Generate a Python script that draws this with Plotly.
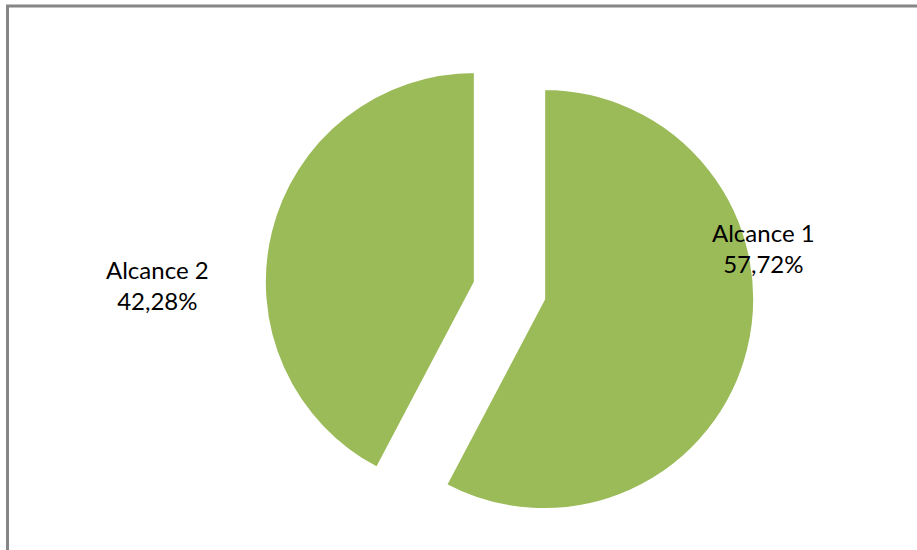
import plotly.graph_objects as go

labels = ["Alcance 1", "Alcance 2"]
values = [57.72, 42.28]
colors = ["#9BBB59", "#9BBB59"]

W, H = 917, 550
r = 210
pull = 0.17
cx, cy = 509.5, 290.5  # px, from top
half = r * (1 + pull)

fig = go.Figure(go.Pie(
    labels=labels,
    values=values,
    sort=False,
    direction="clockwise",
    rotation=0,
    pull=[pull, pull],
    marker=dict(colors=colors, line=dict(color="white", width=2)),
    textinfo="none",
    hoverinfo="label+percent",
    showlegend=False,
    domain=dict(x=[(cx - half) / W, (cx + half) / W],
                y=[1 - (cy + half) / H, 1 - (cy - half) / H]),
))

def fmt(v):
    return f"{v:.2f}".replace(".", ",") + "%"

label_pos = [(763.5, 248), (157, 285)]
for lab, v, (x, y) in zip(labels, values, label_pos):
    fig.add_annotation(
        x=x / W, y=1 - y / H, xref="paper", yref="paper",
        text=f"{lab}<br>{fmt(v)}", showarrow=False,
        font=dict(family="Lato, Calibri, sans-serif", size=24, color="#000000"),
        align="center", xanchor="center", yanchor="middle",
    )

fig.add_shape(type="rect", xref="paper", yref="paper",
              x0=7.5 / W, x1=1.3, y0=-0.3, y1=1 - 6 / H,
              line=dict(color="#868686", width=3), fillcolor="rgba(0,0,0,0)")

fig.update_layout(
    width=W, height=H,
    margin=dict(l=0, r=0, t=0, b=0),
    paper_bgcolor="white", plot_bgcolor="white",
)

fig.write_html("out.html",
               config={"displayModeBar": False},
               post_script="document.body.style.margin='0';document.body.style.overflow='hidden';")
